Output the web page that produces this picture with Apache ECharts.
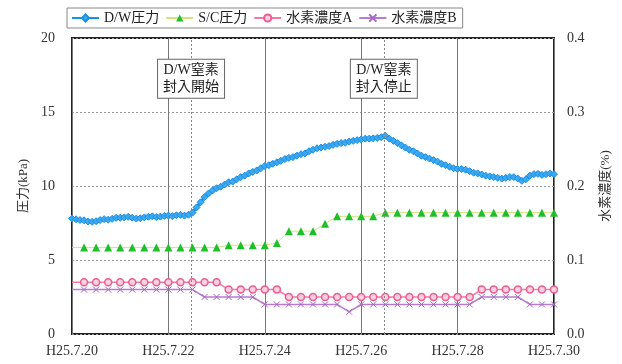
<!DOCTYPE html>
<html>
<head>
<meta charset="utf-8">
<script src="https://cdn.jsdelivr.net/npm/echarts@6/dist/echarts.min.js"></script>
<style>
  html, body { margin: 0; padding: 0; background: #fff; }
  #chart { width: 622px; height: 364px; }
</style>
</head>
<body>
<div id="chart"></div>
<script>
// Tick labels of the date axis (one every 2 days, starting H25.7.20)
const xTickLabels = ['H25.7.20', 'H25.7.22', 'H25.7.24', 'H25.7.26', 'H25.7.28', 'H25.7.30'];

// Series names
const seriesNames = ['D/W圧力', 'S/C圧力', '水素濃度A', '水素濃度B'];

// D/W pressure (kPa), sampled every 2 hours from H25.7.20 0:00
const dwStepHours = 2;
const dwPressure = [
  7.80, 7.75, 7.70, 7.68, 7.60, 7.58, 7.62, 7.70, 7.76, 7.72, 7.78, 7.85,
  7.85, 7.88, 7.92, 7.86, 7.80, 7.82, 7.88, 7.92, 7.95, 7.90, 7.93, 7.98,
  8.00, 7.96, 8.02, 8.05, 8.00, 8.06, 8.20, 8.55, 8.90, 9.25, 9.50, 9.70,
  9.85, 9.95, 10.10, 10.25, 10.30, 10.45, 10.60, 10.70, 10.85, 10.95, 11.05, 11.20,
  11.35, 11.40, 11.50, 11.60, 11.70, 11.82, 11.90, 11.95, 12.05, 12.15, 12.20, 12.35,
  12.45, 12.55, 12.60, 12.65, 12.70, 12.78, 12.85, 12.90, 12.92, 13.00, 13.05, 13.10,
  13.15, 13.20, 13.20, 13.22, 13.25, 13.30, 13.40, 13.20, 13.05, 12.90, 12.75, 12.60,
  12.45, 12.35, 12.20, 12.05, 11.95, 11.85, 11.75, 11.65, 11.50, 11.40, 11.30, 11.20,
  11.15, 11.15, 11.10, 11.00, 10.90, 10.85, 10.78, 10.70, 10.65, 10.60, 10.55, 10.50,
  10.55, 10.60, 10.60, 10.50, 10.35, 10.45, 10.70, 10.80, 10.82, 10.75, 10.80, 10.85,
  10.80
];

// S/C pressure (kPa) and hydrogen concentrations (%), sampled every 6 hours from H25.7.20 0:00
const sampleStepHours = 6;
const scPressure = [
  5.85, 5.85, 5.85, 5.85, 5.85, 5.85, 5.85, 5.85, 5.85, 5.85, 5.85, 5.85, 5.85,
  6.00, 6.00, 6.00, 6.00, 6.15,
  6.95, 6.95, 6.95, 7.45,
  7.95, 7.95, 7.95, 7.95,
  8.20, 8.20, 8.20, 8.20, 8.20, 8.20, 8.20, 8.20, 8.20, 8.20, 8.20, 8.20, 8.20, 8.20, 8.20
];
const h2A = [
  0.07, 0.07, 0.07, 0.07, 0.07, 0.07, 0.07, 0.07, 0.07, 0.07, 0.07, 0.07, 0.07,
  0.06, 0.06, 0.06, 0.06, 0.06,
  0.05, 0.05, 0.05, 0.05, 0.05, 0.05, 0.05, 0.05, 0.05, 0.05, 0.05, 0.05, 0.05, 0.05, 0.05, 0.05,
  0.06, 0.06, 0.06, 0.06, 0.06, 0.06, 0.06
];
const h2B = [
  0.06, 0.06, 0.06, 0.06, 0.06, 0.06, 0.06, 0.06, 0.06, 0.06, 0.06,
  0.05, 0.05, 0.05, 0.05, 0.05,
  0.04, 0.04, 0.04, 0.04, 0.04, 0.04, 0.04,
  0.03,
  0.04, 0.04, 0.04, 0.04, 0.04, 0.04, 0.04, 0.04, 0.04, 0.04,
  0.05, 0.05, 0.05, 0.05,
  0.04, 0.04, 0.04
];

// Event annotations: day offset from H25.7.20 and caption
const eventDays = [2.47, 6.47];
const eventTexts = ['D/W窒素\n封入開始', 'D/W窒素\n封入停止'];

const FONT = "'Liberation Serif', 'Noto Sans CJK JP', serif";
const toPairs = (vals, stepHours) => vals.map((v, i) => [i * stepHours / 24, v]);
// the first 0:00 sample sits on the frame, drawn without a marker
const hideFirst = pairs => pairs.map((p, i) => i === 0 ? { value: p, symbol: 'none' } : p);

const chart = echarts.init(document.getElementById('chart'), null, { renderer: 'canvas' });

chart.setOption({
  backgroundColor: '#fff',
  animation: false,
  textStyle: { fontFamily: FONT },
  legend: {
    data: seriesNames,
    left: 67, top: 8,
    padding: [3, 6, 3, 4],
    itemGap: 6,
    itemWidth: 27, itemHeight: 9,
    borderColor: '#888', borderWidth: 1,
    textStyle: { fontFamily: FONT, fontSize: 14, color: '#222' }
  },
  grid: {
    left: 72, right: 68, top: 38, bottom: 30,
    show: true, borderColor: '#222', borderWidth: 2, backgroundColor: 'transparent'
  },
  xAxis: {
    type: 'value', min: 0, max: 10, interval: 2,
    axisLine: { show: false },
    axisTick: { show: false },
    splitLine: { show: true, lineStyle: { color: '#777', width: 1, type: 'solid' } },
    axisLabel: {
      margin: 10, fontSize: 14, color: '#333', fontFamily: FONT,
      formatter: v => xTickLabels[Math.round(v / 2)]
    }
  },
  yAxis: [
    {
      type: 'value', min: 0, max: 20, interval: 5,
      name: '圧力(kPa)', nameLocation: 'middle', nameRotate: 90, nameGap: 35,
      nameTextStyle: { fontSize: 13, color: '#333', fontFamily: FONT },
      axisLine: { show: false }, axisTick: { show: false },
      splitLine: { show: true, lineStyle: { color: '#999', width: 1, type: [2, 2] } },
      axisLabel: { margin: 17, fontSize: 14, color: '#333', fontFamily: FONT }
    },
    {
      type: 'value', min: 0, max: 0.4, interval: 0.1,
      name: '水素濃度(%)', nameLocation: 'middle', nameRotate: 90, nameGap: 45,
      nameTextStyle: { fontSize: 13, color: '#333', fontFamily: FONT },
      axisLine: { show: false }, axisTick: { show: false },
      splitLine: { show: false },
      axisLabel: { margin: 13, fontSize: 14, color: '#333', fontFamily: FONT,
        formatter: v => v.toFixed(1) }
    }
  ],
  series: [
    {
      name: seriesNames[0], type: 'line', yAxisIndex: 0, z: 3,
      data: toPairs(dwPressure, dwStepHours),
      showAllSymbol: true,
      symbol: 'diamond', symbolSize: 7,
      lineStyle: { color: '#1b8fe6', width: 3 },
      itemStyle: { color: '#3aa9f2', borderColor: '#1b8fe6', borderWidth: 1 },
      markLine: {
        silent: true, symbol: 'none',
        label: { show: false },
        lineStyle: { color: '#888', width: 1, type: [2, 2] },
        data: eventDays.map(d => ({ xAxis: d }))
      }
    },
    {
      name: seriesNames[1], type: 'line', yAxisIndex: 0, z: 4,
      data: hideFirst(toPairs(scPressure, sampleStepHours)),
      showAllSymbol: true,
      symbol: 'triangle', symbolSize: 8,
      lineStyle: { color: '#cfe57a', width: 1 },
      itemStyle: { color: '#1fbf2a' }
    },
    {
      name: seriesNames[2], type: 'line', yAxisIndex: 1, z: 4,
      data: hideFirst(toPairs(h2A, sampleStepHours)),
      showAllSymbol: true,
      symbol: 'circle', symbolSize: 7,
      lineStyle: { color: '#f27aa6', width: 1.5 },
      itemStyle: { color: '#fbd0e0', borderColor: '#ee5b90', borderWidth: 1.5 }
    },
    {
      name: seriesNames[3], type: 'line', yAxisIndex: 1, z: 5,
      data: hideFirst(toPairs(h2B, sampleStepHours)),
      showAllSymbol: true,
      symbol: 'path://M0,0L10,10M10,0L0,10', symbolSize: 6,
      lineStyle: { color: '#b77ccf', width: 1.5 },
      itemStyle: { color: 'none', borderColor: '#a466c2', borderWidth: 1 },
      markPoint: {
        silent: true,
        symbol: 'rect', symbolSize: 1,
        itemStyle: { color: 'rgba(0,0,0,0)' },
        label: {
          show: true, position: 'inside',
          formatter: p => eventTexts[p.dataIndex],
          backgroundColor: '#fff', borderColor: '#666', borderWidth: 1,
          padding: [3, 5, 1, 5], lineHeight: 17,
          fontSize: 14, color: '#222', fontFamily: FONT
        },
        data: eventDays.map(d => ({ coord: [d, 0.345] }))
      }
    }
  ]
});
</script>
</body>
</html>
